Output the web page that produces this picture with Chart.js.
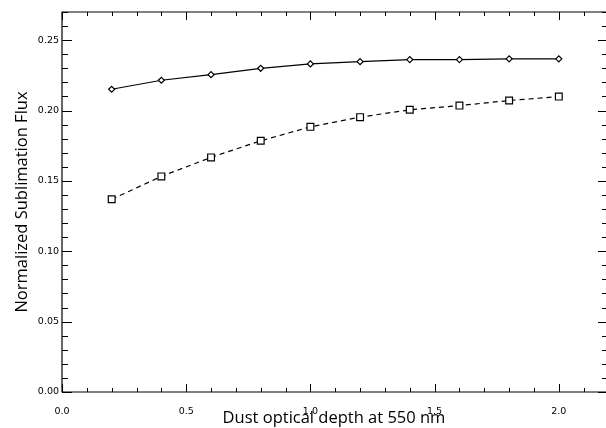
<!DOCTYPE html>
<html>
<head>
<meta charset="utf-8">
<script src="https://cdn.jsdelivr.net/npm/chart.js@4.4.1/dist/chart.umd.min.js"></script>
<style>
  html, body { margin: 0; padding: 0; background: #fff; overflow: hidden; }
</style>
</head>
<body>
<canvas id="chart" width="606" height="428"></canvas>
<script>
// optical depth values (x)
const depths = [0.2, 0.4, 0.6, 0.8, 1.0, 1.2, 1.4, 1.6, 1.8, 2.0];
// solid line with diamonds
const fluxSolid = [0.2151, 0.2215, 0.2255, 0.2300, 0.2331, 0.2347, 0.2362, 0.2362, 0.2367, 0.2367];
// dashed line with squares
const fluxDashed = [0.1369, 0.1532, 0.1667, 0.1785, 0.1884, 0.1953, 0.2005, 0.2035, 0.2071, 0.2099];

const xMinor = [];
for (let i = 0; i <= 21; i++) xMinor.push(i / 10);
const yMinor = [];
for (let i = 0; i <= 27; i++) yMinor.push(i / 100);

const toPoints = ys => depths.map((x, i) => ({ x, y: ys[i] }));

// inward tick marks; the right frame line sits just off the picture
const innerTicks = {
  id: "innerTicks",
  afterDraw(chart) {
    const { ctx, chartArea: a, scales: { x, y } } = chart;
    const right = a.right + 2;
    ctx.save();
    ctx.strokeStyle = "#000";
    ctx.lineWidth = 1;
    ctx.beginPath();
    xMinor.forEach((v, i) => {
      const px = Math.round(x.getPixelForValue(v)) + 0.5;
      const len = i % 5 === 0 ? 8 : 4;
      ctx.moveTo(px, a.bottom); ctx.lineTo(px, a.bottom - len);
      ctx.moveTo(px, a.top); ctx.lineTo(px, a.top + len);
    });
    yMinor.forEach((v, i) => {
      const py = Math.round(y.getPixelForValue(v)) + 0.5;
      const len = i % 5 === 0 ? 10 : 6;
      ctx.moveTo(a.left, py); ctx.lineTo(a.left + len, py);
      ctx.moveTo(right, py); ctx.lineTo(right - len, py);
    });
    ctx.stroke();
    ctx.lineWidth = 1.2;
    ctx.beginPath();
    ctx.moveTo(right, a.top);
    ctx.lineTo(a.left, a.top);
    ctx.lineTo(a.left, a.bottom);
    ctx.lineTo(right, a.bottom);
    ctx.stroke();
    ctx.restore();
  }
};

new Chart(document.getElementById("chart"), {
  type: "scatter",
  data: {
    datasets: [
      {
        data: toPoints(fluxSolid),
        showLine: true,
        borderColor: "#000",
        borderWidth: 1.2,
        pointStyle: "rectRot",
        pointRadius: 3,
        pointBorderWidth: 1.2,
        pointBackgroundColor: "#fff",
        pointBorderColor: "#000"
      },
      {
        data: toPoints(fluxDashed),
        showLine: true,
        borderColor: "#000",
        borderWidth: 1.2,
        borderDash: [5, 4],
        pointStyle: "rect",
        pointRadius: 4.8,
        pointBorderWidth: 1.2,
        pointBackgroundColor: "#fff",
        pointBorderColor: "#000"
      }
    ]
  },
  options: {
    responsive: false,
    animation: false,
    layout: { autoPadding: false, padding: { top: 12, right: 0, left: 0, bottom: 0 } },
    plugins: { legend: { display: false }, tooltip: { enabled: false } },
    scales: {
      x: {
        type: "linear",
        min: 0,
        max: 2.19,
        afterFit: s => { s.height = 36; },
        grid: { display: false, drawTicks: false },
        border: { display: false },
        ticks: {
          stepSize: 0.5,
          includeBounds: false,
          padding: 14,
          color: "#000",
          font: { family: "DejaVu Sans", size: 9.5 },
          callback: v => v.toFixed(1)
        },
        title: {
          display: true,
          text: "Dust optical depth at 550 nm",
          color: "#000",
          font: { family: "Open Sans", size: 16.5 },
          padding: { top: 0, bottom: 0 }
        }
      },
      y: {
        min: 0,
        max: 0.27,
        afterFit: s => { s.width = 62; },
        grid: { display: false, drawTicks: false },
        border: { display: false },
        ticks: {
          stepSize: 0.05,
          includeBounds: false,
          padding: 3,
          color: "#000",
          font: { family: "DejaVu Sans", size: 9.5 },
          callback: v => v.toFixed(2)
        },
        title: {
          display: true,
          text: "Normalized Sublimation Flux",
          color: "#000",
          font: { family: "Open Sans", size: 16.5 },
          padding: { top: 12, bottom: 0 }
        }
      }
    }
  },
  plugins: [innerTicks]
});
</script>
</body>
</html>
